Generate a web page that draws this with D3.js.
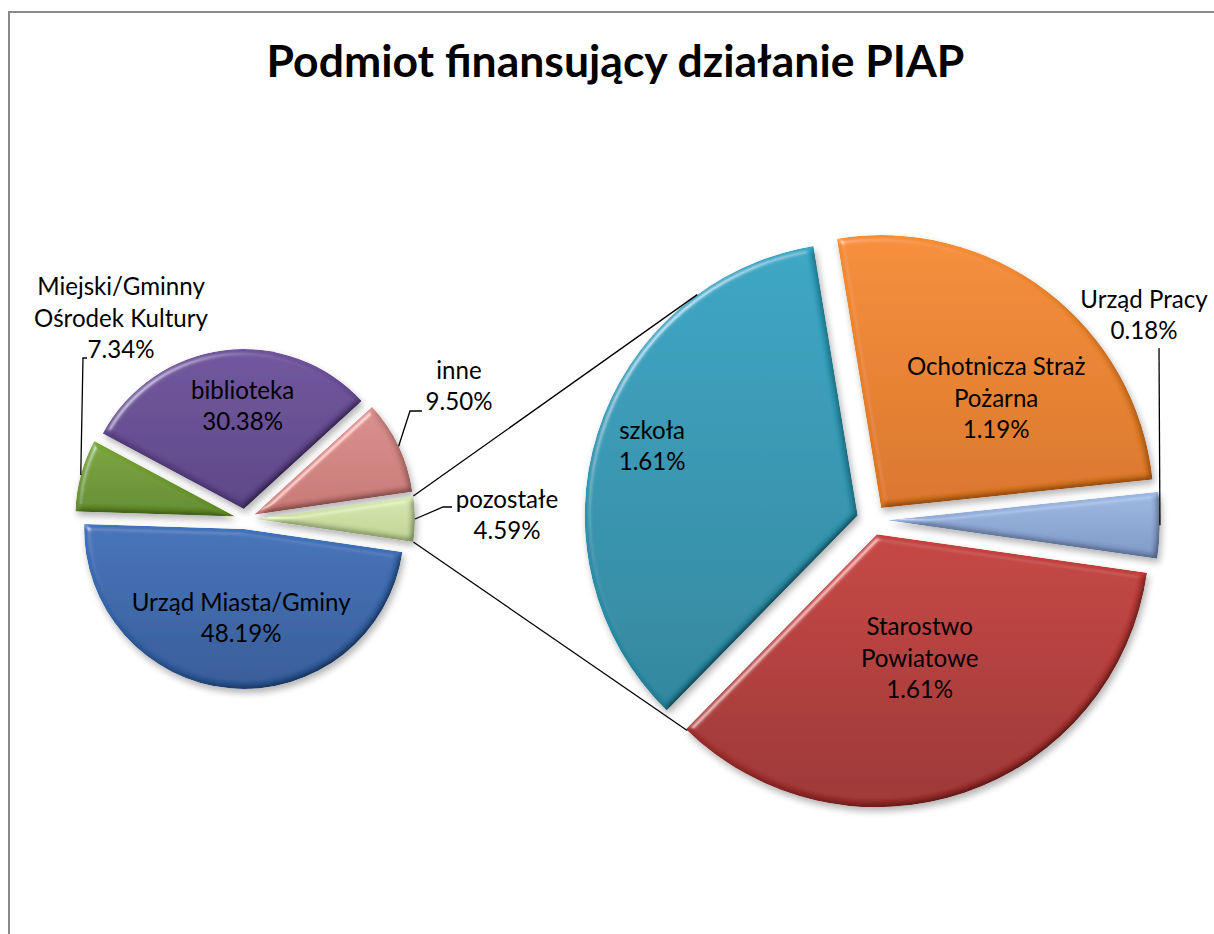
<!DOCTYPE html>
<html><head><meta charset="utf-8">
<script src="https://cdn.jsdelivr.net/npm/d3@7"></script>
<style>
body{margin:0;background:#fff}
svg{display:block}
text{font-family:Lato,"Open Sans",sans-serif;fill:#000}
</style>
</head><body>
<svg id="chart" width="1214" height="934"></svg>
<script>
// ---------------- data ----------------
const chartTitle = "Podmiot finansujący działanie PIAP";
const mainCategories = ["Urząd Miasta/Gminy", "Miejski/Gminny Ośrodek Kultury", "biblioteka", "inne", "pozostałe"];
const mainValues = [48.19, 7.34, 30.38, 9.50, 4.59];
const subCategories = ["szkoła", "Ochotnicza Straż Pożarna", "Urząd Pracy", "Starostwo Powiatowe"];
const subValues = [1.61, 1.19, 0.18, 1.61];

// ---------------- styles / layout ----------------
const mainColors = [["#3f72b9", "#2d5796"], ["#7aa536", "#608a27"], ["#6f529c", "#584083"], ["#d88e8a", "#c57672"], ["#d6e6b0", "#bcd391"]];
const subColors = [["#34a5c2", "#27849c"], ["#f48d33", "#d9731f"], ["#9cb7e0", "#7c96c6"], ["#c5403d", "#9a2d2b"]];
const lineBreaks = {
  "Miejski/Gminny Ośrodek Kultury": ["Miejski/Gminny", "Ośrodek Kultury"],
  "Ochotnicza Straż Pożarna": ["Ochotnicza Straż", "Pożarna"],
  "Starostwo Powiatowe": ["Starostwo", "Powiatowe"]
};
const main = {cx: 245, cy: 519, r: 160, explode: 10};
const sub = {cx: 872, cy: 520, r: 273, explode: 15, startDeg: -135.6};
// inside labels: [angleDeg, radiusFraction] relative to exploded slice centre; null => outside
const mainInside = [[181.9, 0.556], null, [359.4, 0.644], null, null];
const subInside = [[288.7, 0.795], [46.3, 0.583], null, [160.9, 0.48]];
// outside labels: label centre x, visual centre y, leader elbow points
const mainOutside = {
  1: {x: 121, y: 318, leader: [[83, 358], [87, 358]]},
  3: {x: 459, y: 386, leader: [[410, 411], [422, 411]]},
  4: {x: 507, y: 515, leader: [[443, 507], [452, 507]]}
};
const subOutside = {
  2: {x: 1144, y: 315, leader: [[1159, 348]]}
};
const connectorDeg = {top: 324, bottom: 224};
const lineH = 31.5;

const svg = d3.select("#chart");
const defs = svg.append("defs");

// border
svg.append("rect").attr("x", 9).attr("y", 12).attr("width", 1214).attr("height", 930)
  .attr("fill", "none").attr("stroke", "#898989").attr("stroke-width", 2);

// bevel + shadow filter
const f = defs.append("filter").attr("id", "bevel").attr("x", "-20%").attr("y", "-20%").attr("width", "140%").attr("height", "140%");
f.append("feGaussianBlur").attr("in", "SourceAlpha").attr("stdDeviation", 3).attr("result", "blur");
const dl = f.append("feDiffuseLighting").attr("in", "blur").attr("surfaceScale", 3)
  .attr("diffuseConstant", 1.3).attr("lighting-color", "#ffffff").attr("result", "diff");
dl.append("feDistantLight").attr("azimuth", 225).attr("elevation", 50);
f.append("feComposite").attr("in", "SourceGraphic").attr("in2", "diff").attr("operator", "arithmetic")
  .attr("k1", 1).attr("k2", 0).attr("k3", 0).attr("k4", 0).attr("result", "shaded");
const sp = f.append("feSpecularLighting").attr("in", "blur").attr("surfaceScale", 3)
  .attr("specularConstant", 0.8).attr("specularExponent", 55).attr("lighting-color", "#ffffff").attr("result", "spec");
sp.append("feDistantLight").attr("azimuth", 225).attr("elevation", 50);
f.append("feComposite").attr("in", "spec").attr("in2", "SourceAlpha").attr("operator", "in").attr("result", "specIn");
f.append("feComposite").attr("in", "shaded").attr("in2", "specIn").attr("operator", "arithmetic")
  .attr("k1", 0).attr("k2", 1).attr("k3", 0.5).attr("k4", 0).attr("result", "lit0");
f.append("feComposite").attr("in", "lit0").attr("in2", "SourceAlpha").attr("operator", "in").attr("result", "lit");
f.append("feGaussianBlur").attr("in", "SourceAlpha").attr("stdDeviation", 3.5).attr("result", "sb");
f.append("feOffset").attr("in", "sb").attr("dx", 2).attr("dy", 4).attr("result", "so");
f.append("feComponentTransfer").attr("in", "so").attr("result", "sh")
  .append("feFuncA").attr("type", "linear").attr("slope", 0.3);
const m = f.append("feMerge");
m.append("feMergeNode").attr("in", "sh");
m.append("feMergeNode").attr("in", "lit");

function grad(id, c) {
  const g = defs.append("linearGradient").attr("id", id).attr("x1", 0).attr("y1", 0).attr("x2", 0).attr("y2", 1);
  g.append("stop").attr("offset", "0%").attr("stop-color", c[0]);
  g.append("stop").attr("offset", "100%").attr("stop-color", c[1]);
}
mainColors.forEach((c, i) => grad("gm" + i, c));
subColors.forEach((c, i) => grad("gs" + i, c));

const rad = d => d * Math.PI / 180;
const fmt = v => d3.format(".2f")(v) + "%";
const polar = (a, r) => [r * Math.sin(a), -r * Math.cos(a)];

// title (fit to width)
const t = svg.append("text").attr("x", 615.5).attr("y", 77).attr("text-anchor", "middle")
  .attr("font-weight", "bold").attr("font-size", 40).text(chartTitle);
const tw = t.node().getComputedTextLength();
t.attr("font-size", 40 * 698 / tw);

// label font size fit
const probe = svg.append("text").attr("font-size", 24).text("Urząd Miasta/Gminy");
const fs = 24 * 219 / probe.node().getComputedTextLength();
probe.remove();

function drawLabel(g, x, y, lines) {
  const n = lines.length;
  const te = g.append("text").attr("text-anchor", "middle").attr("font-size", fs);
  lines.forEach((l, i) => {
    te.append("tspan").attr("x", x).attr("y", y + (i - (n - 1) / 2) * lineH + 0.36 * fs).text(l);
  });
}

// ---------------- main pie ----------------
const pozIndex = mainCategories.length - 1;
const total = d3.sum(mainValues);
const mainStart = Math.PI / 2 + Math.PI * mainValues[pozIndex] / total;
const mainPie = d3.pie().sort(null).value(d => d).startAngle(mainStart).endAngle(mainStart + 2 * Math.PI);
const mainArcs = mainPie(mainValues);
const arcM = d3.arc().innerRadius(0).outerRadius(main.r);

const gm = svg.append("g").attr("transform", `translate(${main.cx},${main.cy})`);
const mainOff = mainArcs.map(a => polar((a.startAngle + a.endAngle) / 2, main.explode));
gm.selectAll("path").data(mainArcs).join("path")
  .attr("d", arcM)
  .attr("transform", (d, i) => `translate(${mainOff[i][0]},${mainOff[i][1]})`)
  .attr("fill", (d, i) => `url(#gm${i})`)
  .attr("filter", "url(#bevel)");

// ---------------- sub pie ----------------
const subStart = rad(sub.startDeg);
const subPie = d3.pie().sort(null).value(d => d).startAngle(subStart).endAngle(subStart + 2 * Math.PI);
const subArcs = subPie(subValues);
const arcS = d3.arc().innerRadius(0).outerRadius(sub.r);
const gs = svg.append("g").attr("transform", `translate(${sub.cx},${sub.cy})`);
const subOff = subArcs.map(a => polar((a.startAngle + a.endAngle) / 2, sub.explode));
gs.selectAll("path").data(subArcs).join("path")
  .attr("d", arcS)
  .attr("transform", (d, i) => `translate(${subOff[i][0]},${subOff[i][1]})`)
  .attr("fill", (d, i) => `url(#gs${i})`)
  .attr("filter", "url(#bevel)");

// ---------------- connector lines ----------------
const pz = mainArcs[pozIndex];
const pzTop = polar(pz.startAngle, main.r), pzBot = polar(pz.endAngle, main.r);
const p1 = [main.cx + mainOff[pozIndex][0] + pzTop[0], main.cy + mainOff[pozIndex][1] + pzTop[1]];
const p2 = [main.cx + mainOff[pozIndex][0] + pzBot[0], main.cy + mainOff[pozIndex][1] + pzBot[1]];
function subPoint(deg) {
  let a = rad(deg);
  let idx = subArcs.findIndex(s => {
    let aa = a; while (aa < s.startAngle) aa += 2 * Math.PI;
    return aa <= s.endAngle + 1e-6;
  });
  if (idx < 0) idx = 0;
  const p = polar(a, sub.r);
  return [sub.cx + subOff[idx][0] + p[0], sub.cy + subOff[idx][1] + p[1]];
}
const q1 = subPoint(connectorDeg.top), q2 = subPoint(connectorDeg.bottom);
const lineGen = d3.line();
svg.append("path").attr("d", lineGen([p1, q1])).attr("stroke", "#000").attr("stroke-width", 1.3).attr("fill", "none");
svg.append("path").attr("d", lineGen([p2, q2])).attr("stroke", "#000").attr("stroke-width", 1.3).attr("fill", "none");

// ---------------- labels ----------------
const lab = svg.append("g");
function labelsFor(cats, vals, arcs, offs, centre, inside, outside, r) {
  arcs.forEach((a, i) => {
    const lines = (lineBreaks[cats[i]] || [cats[i]]).concat([fmt(vals[i])]);
    if (inside[i]) {
      const p = polar(rad(inside[i][0]), inside[i][1] * r);
      drawLabel(lab, centre.cx + offs[i][0] + p[0], centre.cy + offs[i][1] + p[1], lines);
    } else if (outside[i]) {
      const o = outside[i];
      const mid = polar((a.startAngle + a.endAngle) / 2, r);
      const s = [centre.cx + offs[i][0] + mid[0], centre.cy + offs[i][1] + mid[1]];
      lab.append("path").attr("d", lineGen([s].concat(o.leader)))
        .attr("stroke", "#000").attr("stroke-width", 1.3).attr("fill", "none");
      drawLabel(lab, o.x, o.y, lines);
    }
  });
}
labelsFor(mainCategories, mainValues, mainArcs, mainOff, main, mainInside, mainOutside, main.r);
labelsFor(subCategories, subValues, subArcs, subOff, sub, subInside, subOutside, sub.r);
</script>
</body></html>
